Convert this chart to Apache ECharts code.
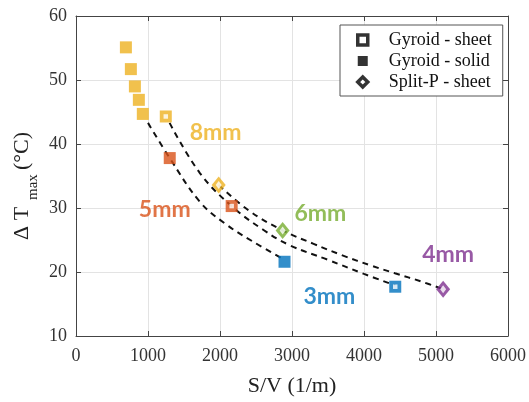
<!DOCTYPE html>
<html>
<head>
<meta charset="utf-8">
<script src="https://cdn.jsdelivr.net/npm/echarts@6/dist/echarts.min.js"></script>
<style>html,body{margin:0;padding:0;background:#fff;}#c{width:529px;height:402px;}</style>
</head>
<body>
<div id="c"></div>
<script>
// ---- data ----
const sizeNames = ['8mm', '5mm', '6mm', '3mm', '4mm'];
const sizeColors = ['#EDB120', '#D95319', '#77AC30', '#0072BD', '#7E2F8E'];

const solidSV = [693, 762, 818, 873, 928, 1302, 2896];
const solidDT = [55.1, 51.7, 49.0, 46.9, 44.7, 37.8, 21.6];
const solidSize = [0, 0, 0, 0, 0, 1, 3];

const sheetSV = [1247, 2162, 4434];
const sheetDT = [44.3, 30.3, 17.7];
const sheetSize = [0, 1, 3];

const splitSV = [1982, 2870, 5099];
const splitDT = [33.6, 26.5, 17.3];
const splitSize = [0, 2, 4];

// dashed trend curves
const fitSolidSV = [1000, 1302, 1718, 2065, 2450, 2880];
const fitSolidDT = [43.3, 37.8, 31.0, 27.6, 24.8, 22.0];
const fitSheetSV = [1300, 1718, 2162, 2600, 2965, 3500, 4000, 4434];
const fitSheetDT = [43.3, 35.5, 30.3, 26.6, 24.2, 21.9, 19.7, 17.9];
const fitSplitSV = [1982, 2400, 2870, 3300, 3700, 4100, 4430, 4800, 5099];
const fitSplitDT = [33.6, 29.6, 26.5, 24.4, 22.6, 21.0, 19.8, 18.5, 17.3];

// size label anchor points (data coords)
const labelSV = [1940, 1233, 3395, 3520, 5168];
const labelDT = [41.8, 29.7, 29.1, 16.1, 22.7];

const xTicks = [0, 1000, 2000, 3000, 4000, 5000, 6000];
const yTicks = [10, 20, 30, 40, 50, 60];
const legendNames = ['Gyroid - sheet', 'Gyroid - solid', 'Split-P - sheet'];

// ---- build ----
const zip = (a, b) => a.map((v, i) => [v, b[i]]);
const serif = 'Liberation Serif';
const axisColor = '#444';

const solidItems = solidSV.map((v, i) => ({ value: [v, solidDT[i]], itemStyle: { color: sizeColors[solidSize[i]] } }));
const sheetOuter = sheetSV.map((v, i) => ({ value: [v, sheetDT[i]], itemStyle: { color: sizeColors[sheetSize[i]] } }));
const sheetInner = sheetSV.map((v, i) => [v, sheetDT[i]]);
const splitOuter = splitSV.map((v, i) => ({ value: [v, splitDT[i]], itemStyle: { color: sizeColors[splitSize[i]] } }));
const splitInner = splitSV.map((v, i) => [v, splitDT[i]]);
const labelItems = labelSV.map((v, i) => ({
  value: [v, labelDT[i]], name: sizeNames[i],
  label: { color: sizeColors[i] }
}));

const dashed = { color: '#111', width: 2, type: [6, 5] };
const plain = v => String(v);

const chart = echarts.init(document.getElementById('c'), null, { renderer: 'canvas' });
chart.setOption({
  animation: false,
  backgroundColor: '#fff',
  grid: { left: 76, right: 20, top: 16, bottom: 59 },
  xAxis: [{
    type: 'value', min: xTicks[0], max: xTicks[xTicks.length - 1], interval: 1000,
    name: 'S/V (1/m)', nameLocation: 'middle', nameGap: 39,
    nameTextStyle: { fontFamily: serif, fontSize: 22, color: '#222' },
    axisLine: { show: true, onZero: false, lineStyle: { color: axisColor } },
    axisTick: { show: true, inside: true, length: 5, lineStyle: { color: axisColor } },
    axisLabel: { fontFamily: serif, fontSize: 18, color: '#333', margin: 11, formatter: plain },
    splitLine: { show: true, lineStyle: { color: '#e3e3e3' } }
  }, {
    type: 'value', position: 'top', min: 0, max: 6000, interval: 1000,
    axisLine: { show: true, onZero: false, lineStyle: { color: axisColor } },
    axisTick: { show: true, inside: true, length: 5, lineStyle: { color: axisColor } },
    axisLabel: { show: false }, splitLine: { show: false }
  }],
  yAxis: [{
    type: 'value', min: yTicks[0], max: yTicks[yTicks.length - 1], interval: 10,
    axisLine: { show: true, onZero: false, lineStyle: { color: axisColor } },
    axisTick: { show: true, inside: true, length: 5, lineStyle: { color: axisColor } },
    axisLabel: { fontFamily: serif, fontSize: 18, color: '#333', margin: 9, formatter: plain },
    splitLine: { show: true, lineStyle: { color: '#e3e3e3' } }
  }, {
    type: 'value', position: 'right', min: 10, max: 60, interval: 10,
    axisLine: { show: true, onZero: false, lineStyle: { color: axisColor } },
    axisTick: { show: true, inside: true, length: 5, lineStyle: { color: axisColor } },
    axisLabel: { show: false }, splitLine: { show: false }
  }],
  legend: {
    orient: 'vertical', left: 340, top: 25,
    padding: [6, 11, 5, 16],
    itemGap: 3, itemWidth: 10, itemHeight: 10,
    backgroundColor: '#fff', borderColor: '#555', borderWidth: 1,
    textStyle: { fontFamily: serif, fontSize: 18, color: '#111', padding: [0, 0, 0, 16] },
    data: [
      { name: legendNames[0], icon: 'rect', itemStyle: { color: '#fff', borderColor: '#000', borderWidth: 3.5 } },
      { name: legendNames[1], icon: 'rect', itemStyle: { color: '#000', borderWidth: 0 } },
      { name: legendNames[2], icon: 'diamond', itemStyle: { color: '#fff', borderColor: '#000', borderWidth: 3.5 } }
    ]
  },
  series: [
    { type: 'line', name: 'fit-solid', data: zip(fitSolidSV, fitSolidDT), smooth: 0.4, showSymbol: false, lineStyle: dashed, z: 1, silent: true },
    { type: 'line', name: 'fit-sheet', data: zip(fitSheetSV, fitSheetDT), smooth: 0.4, showSymbol: false, lineStyle: dashed, z: 1, silent: true },
    { type: 'line', name: 'fit-split', data: zip(fitSplitSV, fitSplitDT), smooth: 0.4, showSymbol: false, lineStyle: dashed, z: 1, silent: true },
    { type: 'scatter', name: legendNames[1], data: solidItems, symbol: 'rect', symbolSize: 12, z: 3 },
    { type: 'scatter', name: legendNames[0], data: sheetOuter, symbol: 'rect', symbolSize: 12, z: 3 },
    { type: 'scatter', name: 'sheet-inner', data: sheetInner, symbol: 'rect', symbolSize: 4.5, itemStyle: { color: '#fff' }, z: 4, silent: true },
    { type: 'scatter', name: legendNames[2], data: splitOuter, symbol: 'diamond', symbolSize: [14, 17], z: 3 },
    { type: 'scatter', name: 'split-inner', data: splitInner, symbol: 'diamond', symbolSize: [6, 8], itemStyle: { color: '#fff' }, z: 4, silent: true },
    { type: 'scatter', name: 'size-labels', data: labelItems, symbolSize: 0, z: 5, silent: true,
      label: { show: true, position: 'inside', formatter: '{b}', fontFamily: 'Lato', fontWeight: 'bold', fontSize: 23 } }
  ],
  graphic: [{
    type: 'group', x: 22, y: 240, rotation: Math.PI / 2,
    children: [
      { type: 'text', x: 0, y: 0, style: { text: 'Δ T', fontFamily: serif, fontSize: 22, fill: '#222', verticalAlign: 'middle', align: 'left' } },
      { type: 'text', x: 40, y: 11, style: { text: 'max', fontFamily: serif, fontSize: 15, fill: '#222', verticalAlign: 'middle', align: 'left' } },
      { type: 'text', x: 70, y: 0, style: { text: '(°C)', fontFamily: serif, fontSize: 22, fill: '#222', verticalAlign: 'middle', align: 'left' } }
    ]
  }]
});
</script>
</body>
</html>
